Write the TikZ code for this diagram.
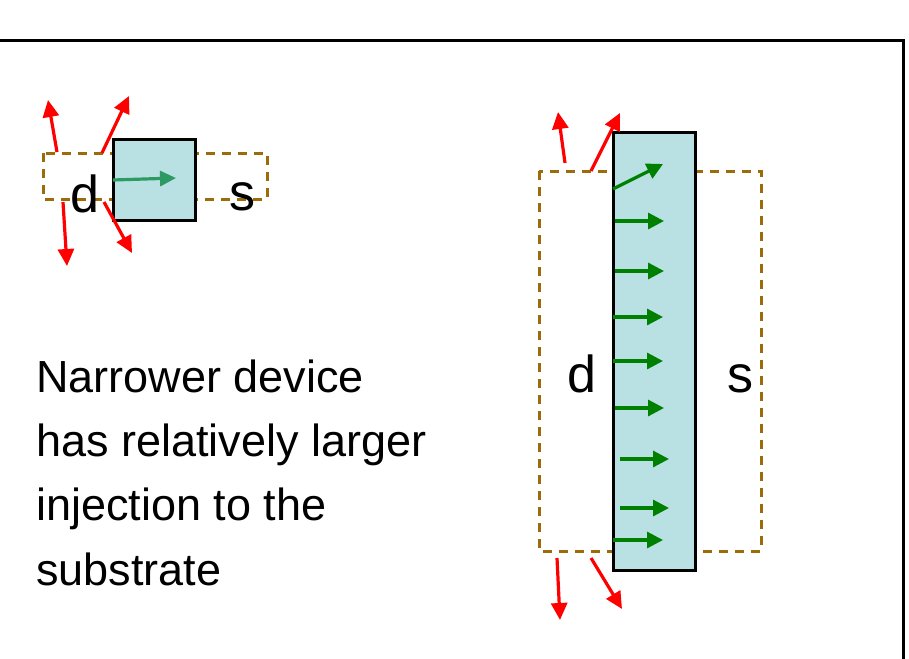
\documentclass[tikz,border=0pt]{standalone}
\usepackage{fontspec}
\setmainfont{Liberation Sans}
\usetikzlibrary{arrows.meta}
\definecolor{tealfill}{HTML}{B9E0E3}
\definecolor{dashbrown}{HTML}{9C6B0A}
\definecolor{sgreen}{HTML}{2E9A63}
\definecolor{dgreen}{HTML}{008000}
\tikzset{
  device/.style={draw=black, line width=3pt, fill=tealfill, inner sep=0pt},
  region/.style={draw=dashbrown, line width=3pt, dash pattern=on 9pt off 7pt},
  inj/.style={draw=red, line width=3.2pt, -{Triangle[length=17pt,width=16pt]}},
  flow/.style={draw=dgreen, line width=3.2pt, -{Triangle[length=16pt,width=16pt]}},
  flowsmall/.style={draw=sgreen, line width=3.2pt, -{Triangle[length=16pt,width=15pt]}},
  lbl/.style={font=\fontsize{52}{52}\selectfont, inner sep=0pt, anchor=base},
  frameline/.style={draw=black, line width=3pt}
}
\begin{document}
\begin{tikzpicture}[x=1pt,y=-1pt]
\useasboundingbox (0,0) rectangle (909,658);
% frame
\coordinate (f1) at (0,41);
\coordinate (f2) at (903,41);
\coordinate (f3) at (903,660);
\draw[frameline] (f1) -- (f2) -- (f3);

% ---- small device ----
\draw[region] (43,153) rectangle (267,199);
\node[device, minimum width=82pt, minimum height=81pt] (sdev) at (154,179.5) {};
\node[lbl] (sd) at (85,212) {d};
\node[lbl] (ss) at (242,210) {s};
\coordinate (sg1) at (113,180);
\coordinate (sg2) at (176,178);
\draw[flowsmall] (sg1) -- (sg2);
\coordinate (sr1a) at (57,152); \coordinate (sr1b) at (48,100);
\coordinate (sr2a) at (102,153); \coordinate (sr2b) at (129,96);
\coordinate (sr3a) at (63,202); \coordinate (sr3b) at (67,266);
\coordinate (sr4a) at (104,202); \coordinate (sr4b) at (132,253);
\draw[inj] (sr1a) -- (sr1b);
\draw[inj] (sr2a) -- (sr2b);
\draw[inj] (sr3a) -- (sr3b);
\draw[inj] (sr4a) -- (sr4b);

% ---- text ----
\node[anchor=base west, inner sep=0pt, font=\fontsize{45}{64.3}\selectfont, align=left] (txt) at (36,585)
  {Narrower device\\has relatively larger\\injection to the\\substrate};

% ---- wide device ----
\draw[region] (539,171) rectangle (761,551);
\node[device, minimum width=82pt, minimum height=438pt] (bdev) at (654,351) {};
\node[lbl] (bd) at (582,392) {d};
\node[lbl] (bs) at (740,392) {s};
\coordinate (g1a) at (613,189); \coordinate (g1b) at (663,164);
\draw[flow] (g1a) -- (g1b);
\foreach \i/\xa/\xb/\yy in {2/615/664/221, 3/615/664/271, 4/613/663/317, 5/613/663/361, 6/615/664/408, 7/620/669/459, 8/620/669/508, 9/613/663/540} {
  \coordinate (g\i a) at (\xa,\yy);
  \coordinate (g\i b) at (\xb,\yy);
  \draw[flow] (g\i a) -- (g\i b);
}
\coordinate (br1a) at (565,163); \coordinate (br1b) at (558,112);
\coordinate (br2a) at (591,171); \coordinate (br2b) at (620,113);
\coordinate (br3a) at (557,558); \coordinate (br3b) at (560,620);
\coordinate (br4a) at (591,558); \coordinate (br4b) at (622,609);
\draw[inj] (br1a) -- (br1b);
\draw[inj] (br2a) -- (br2b);
\draw[inj] (br3a) -- (br3b);
\draw[inj] (br4a) -- (br4b);
\end{tikzpicture}
\end{document}
